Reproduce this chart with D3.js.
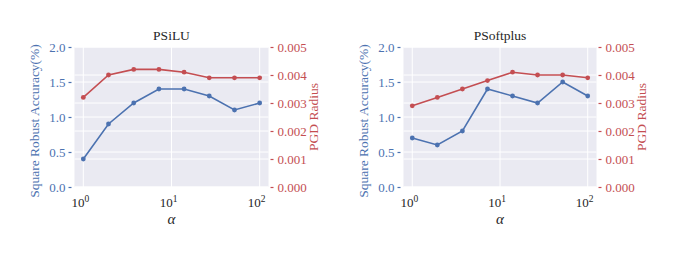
<!DOCTYPE html>
<html>
<head>
<meta charset="utf-8">
<script src="https://cdn.jsdelivr.net/npm/d3@7"></script>
<style>
  body { margin: 0; background: #fff; }
  svg text { font-family: "Liberation Serif", "Times New Roman", "DejaVu Serif", serif !important; }
</style>
</head>
<body>
<div id="chart"></div>
<script>
// data
const alphas = [1, 1.93, 3.73, 7.2, 13.9, 26.8, 51.8, 100];
const titles = ["PSiLU", "PSoftplus"];
const accSilu = [0.4, 0.9, 1.2, 1.4, 1.4, 1.3, 1.1, 1.2];
const radSilu = [0.0032, 0.0040, 0.0042, 0.0042, 0.0041, 0.0039, 0.0039, 0.0039];
const accSoft = [0.7, 0.6, 0.8, 1.4, 1.3, 1.2, 1.5, 1.3];
const radSoft = [0.0029, 0.0032, 0.0035, 0.0038, 0.0041, 0.0040, 0.0040, 0.0039];
const accTicks = [0, 0.5, 1.0, 1.5, 2.0];
const radTicks = [0, 0.001, 0.002, 0.003, 0.004, 0.005];
const xTicks = [1, 10, 100];

const blue = "#4C72B0", red = "#C44E52";
const W = 685, H = 257;
const serif = '"Liberation Serif", "Times New Roman", "DejaVu Serif", serif';

const svg = d3.select("#chart").append("svg")
  .attr("width", W).attr("height", H)
  .style("font-family", serif);

const panels = [
  {title: titles[0], acc: accSilu, rad: radSilu, left: 74.5, width: 194},
  {title: titles[1], acc: accSoft, rad: radSoft, left: 403.5, width: 193}
];
const plotTop = 47, plotBottom = 187;

panels.forEach(function(p) {
  const g = svg.append("g").attr("transform", `translate(${p.left},0)`);

  // log x with 5% margins
  const x = d3.scaleLog().domain([1, 100]);
  const pad = p.width / 1.1 * 0.05;
  x.range([pad, p.width - pad]);
  const y = d3.scaleLinear().domain([0, 2]).range([plotBottom, plotTop]);
  const y2 = d3.scaleLinear().domain([0, 0.005]).range([plotBottom, plotTop]);

  g.append("rect")
    .attr("x", 0).attr("y", plotTop)
    .attr("width", p.width).attr("height", plotBottom - plotTop)
    .attr("fill", "#EAEAF2");

  // grid lines from both y axes and x
  g.selectAll(".gy").data(accTicks).join("line")
    .attr("x1", 0).attr("x2", p.width)
    .attr("y1", d => y(d)).attr("y2", d => y(d))
    .attr("stroke", "#fff").attr("stroke-width", 1);
  g.selectAll(".gy2").data(radTicks).join("line")
    .attr("x1", 0).attr("x2", p.width)
    .attr("y1", d => y2(d)).attr("y2", d => y2(d))
    .attr("stroke", "#fff").attr("stroke-width", 1);
  g.selectAll(".gx").data(xTicks).join("line")
    .attr("x1", d => x(d)).attr("x2", d => x(d))
    .attr("y1", plotTop).attr("y2", plotBottom)
    .attr("stroke", "#fff").attr("stroke-width", 1);

  // left axis
  const ax = g.append("g")
    .call(d3.axisLeft(y).tickValues(accTicks).tickFormat(d3.format(".1f")).tickSize(3).tickPadding(4));
  ax.attr("font-family", serif);
  ax.select(".domain").remove();
  ax.selectAll("line").attr("stroke", blue).attr("stroke-width", 1.2).attr("transform", "translate(-3,0)");
  ax.selectAll("text").attr("fill", blue).style("font-size", "13px").attr("x", -9);

  // right axis
  const ax2 = g.append("g").attr("transform", `translate(${p.width},0)`)
    .call(d3.axisRight(y2).tickValues(radTicks).tickFormat(d3.format(".3f")).tickSize(3));
  ax2.attr("font-family", serif);
  ax2.select(".domain").remove();
  ax2.selectAll("line").attr("stroke", red).attr("stroke-width", 1.2).attr("transform", "translate(2,0)");
  ax2.selectAll("text").attr("fill", red).style("font-size", "13px").attr("x", 9);

  // x tick labels 10^k
  const xl = g.selectAll(".xt").data(xTicks).join("text")
    .attr("x", d => x(d) - 3).attr("y", 207)
    .attr("text-anchor", "middle")
    .style("font-size", "13px").attr("fill", "#262626");
  xl.append("tspan").text("10");
  xl.append("tspan").attr("dy", -5).style("font-size", "9.5px")
    .text(d => Math.round(Math.log10(d)));

  g.append("text")
    .attr("x", p.width / 2).attr("y", 224)
    .attr("text-anchor", "middle")
    .style("font-size", "15px").style("font-style", "italic").attr("fill", "#262626")
    .text("α");

  g.append("text")
    .attr("x", p.width / 2).attr("y", 40)
    .attr("text-anchor", "middle")
    .style("font-size", "13.5px").attr("fill", "#262626")
    .text(p.title);

  g.append("text")
    .attr("transform", `translate(-36,${(plotTop + plotBottom) / 2 + 4}) rotate(-90)`)
    .attr("text-anchor", "middle")
    .style("font-size", "13.5px").attr("fill", blue)
    .text("Square Robust Accuracy(%)");

  g.append("text")
    .attr("transform", `translate(${p.width + 49},${(plotTop + plotBottom) / 2}) rotate(-90)`)
    .attr("text-anchor", "middle")
    .style("font-size", "13.5px").attr("fill", red)
    .text("PGD Radius");

  // series
  const data = alphas.map((a, i) => ({a: a, acc: p.acc[i], rad: p.rad[i]}));
  const lineAcc = d3.line().x(d => x(d.a)).y(d => y(d.acc));
  const lineRad = d3.line().x(d => x(d.a)).y(d => y2(d.rad));

  g.append("path").datum(data).attr("d", lineAcc)
    .attr("fill", "none").attr("stroke", blue).attr("stroke-width", 1.6);
  g.selectAll(".pa").data(data).join("circle")
    .attr("cx", d => x(d.a)).attr("cy", d => y(d.acc)).attr("r", 2.4).attr("fill", blue);

  g.append("path").datum(data).attr("d", lineRad)
    .attr("fill", "none").attr("stroke", red).attr("stroke-width", 1.6);
  g.selectAll(".pr").data(data).join("circle")
    .attr("cx", d => x(d.a)).attr("cy", d => y2(d.rad)).attr("r", 2.4).attr("fill", red);
});
</script>
</body>
</html>
